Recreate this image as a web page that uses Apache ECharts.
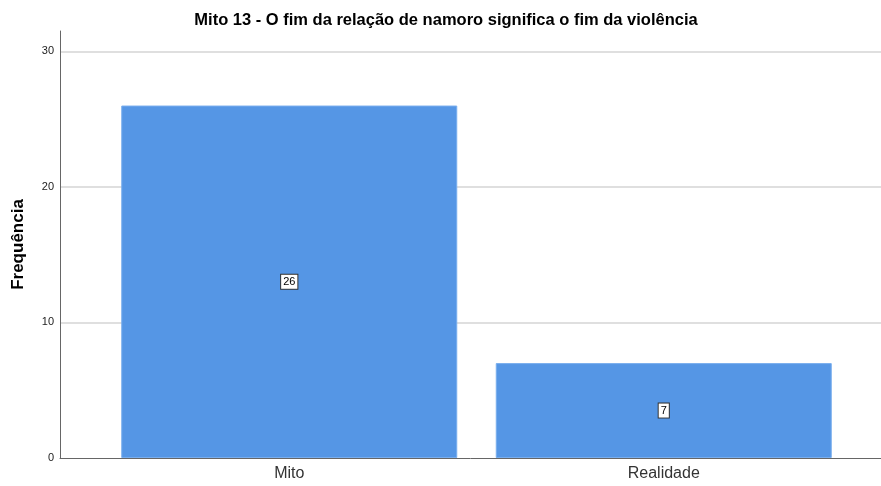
<!DOCTYPE html>
<html lang="pt">
<head>
    <meta charset="UTF-8">
    <title>Mito 13</title>
    <script src="https://cdn.jsdelivr.net/npm/echarts@6/dist/echarts.min.js"></script>
</head>
<body style="margin:0">
    <div id="chart" style="width: 881px; height: 486px;"></div>
    <script>
        var categories = ["Mito", "Realidade"]
        var counts = [26, 7]
        var yTicks = [0, 10, 20, 30]

        var fontFam = "'Liberation Sans', Arial, sans-serif"
        var chart = echarts.init(document.getElementById('chart'))

        var option = {
            title: {
                text: "Mito 13 - O fim da relação de namoro significa o fim da violência",
                left: 441,
                textAlign: 'center',
                top: 7,
                textStyle: { fontFamily: fontFam, fontSize: 16.5, fontWeight: 'bold', color: '#000' }
            },
            grid: [
                // frame: axis lines and grid lines
                { left: 60, right: 0, top: 31, bottom: 28 },
                // bars
                { left: 102, right: 30, top: 31, bottom: 28 }
            ],
            xAxis: [
                {
                    gridIndex: 0, type: 'category', data: [''],
                    axisLine: { lineStyle: { color: '#666', width: 1 } },
                    axisTick: { show: false }, axisLabel: { show: false }
                },
                {
                    gridIndex: 1, type: 'category', data: categories,
                    axisLine: { show: false }, axisTick: { show: false },
                    axisLabel: { fontFamily: fontFam, fontSize: 16, color: '#333', margin: 8 }
                }
            ],
            yAxis: [
                {
                    gridIndex: 0, type: 'value', min: 0, max: 31.5, interval: 10,
                    name: 'Frequência', nameLocation: 'middle', nameGap: 33,
                    nameTextStyle: { fontFamily: fontFam, fontSize: 17, fontWeight: 'bold', color: '#000' },
                    axisLine: { show: true, lineStyle: { color: '#666', width: 1 } },
                    axisTick: { show: false },
                    axisLabel: {
                        fontFamily: fontFam, fontSize: 11, color: '#222', margin: 6,
                        formatter: function (v) { return yTicks.indexOf(v) >= 0 ? v : '' }
                    },
                    splitLine: { show: true, showMinLine: false, showMaxLine: false, lineStyle: { color: '#d4d4d4', width: 1.5 } }
                },
                {
                    gridIndex: 1, type: 'value', min: 0, max: 31.5, interval: 10,
                    axisLine: { show: false }, axisTick: { show: false },
                    axisLabel: { show: false }, splitLine: { show: false }
                }
            ],
            series: [
                {
                    type: 'bar', xAxisIndex: 1, yAxisIndex: 1,
                    data: counts,
                    barCategoryGap: 38.5,
                    itemStyle: { color: '#5596e5', borderColor: '#79aeee', borderWidth: 1 },
                    label: {
                        show: true, position: 'inside',
                        fontFamily: fontFam, fontSize: 11, color: '#000',
                        backgroundColor: '#fff', borderColor: '#333', borderWidth: 1,
                        padding: [2, 2, 1, 2]
                    }
                }
            ]
        }

        chart.setOption(option)
    </script>
</body>
</html>
